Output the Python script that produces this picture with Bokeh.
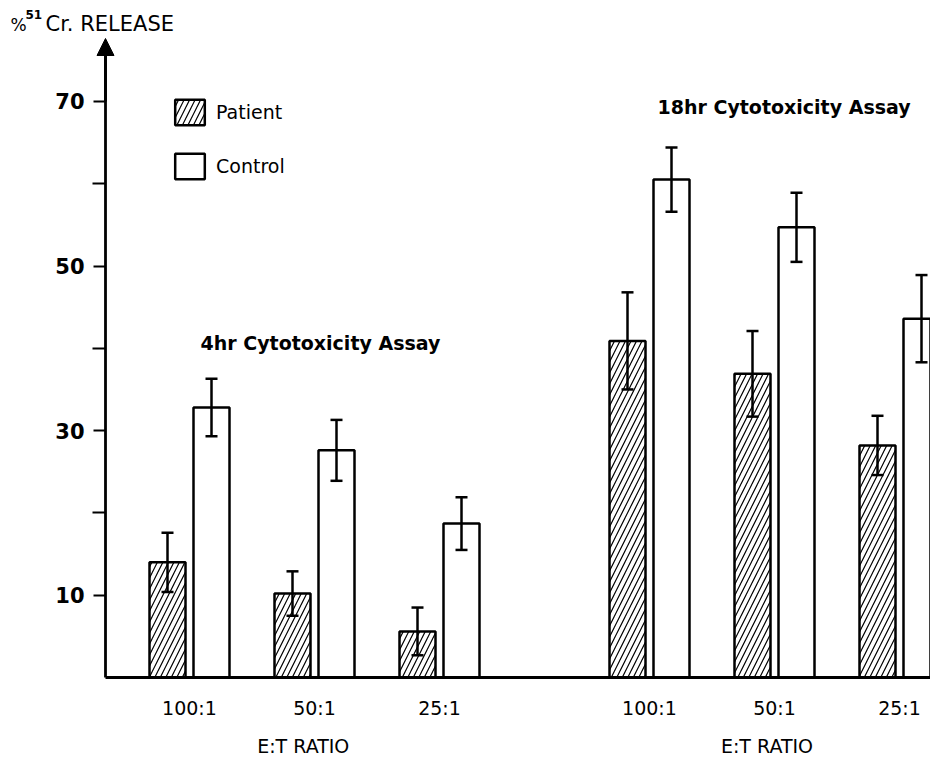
import numpy as np
from bokeh.plotting import figure
from bokeh.models import (Range1d, LinearAxis, FixedTicker, Whisker, TeeHead, Arrow,
                          NormalHead, Label, Legend, LegendItem, ColumnDataSource)
from bokeh.embed import file_html
from bokeh.resources import INLINE

# E:T ratios tested in each assay
ratios = ["100:1", "50:1", "25:1"]
assay_titles = ["4hr Cytotoxicity Assay", "18hr  Cytotoxicity Assay"]

# % 51Cr release (mean) and error (±) per ratio
patient_4hr = [14.0, 10.2, 5.6]
patient_4hr_err = [3.6, 2.7, 2.9]
control_4hr = [32.8, 27.6, 18.7]
control_4hr_err = [3.5, 3.7, 3.2]

patient_18hr = [40.9, 36.9, 28.2]
patient_18hr_err = [5.9, 5.2, 3.6]
control_18hr = [60.5, 54.7, 43.6]
control_18hr_err = [3.9, 4.2, 5.3]

# y axis ticks: labelled and unlabelled
y_labelled = [10, 30, 50, 70]
y_unlabelled = [20, 40, 60]

# ---- layout of the two groups of bars on a numeric x scale ----
GAP = 1.68          # extra space between the 4hr and 18hr groups
DODGE = 0.176       # half distance between patient and control bar
BAR_W = 0.288
n = len(ratios)
centers = np.concatenate([np.arange(n), np.arange(n) + n - 1 + GAP])

patient = np.array(patient_4hr + patient_18hr)
patient_err = np.array(patient_4hr_err + patient_18hr_err)
control = np.array(control_4hr + control_18hr)
control_err = np.array(control_4hr_err + control_18hr_err)

src_p = ColumnDataSource(dict(x=centers - DODGE, top=patient,
                              upper=patient + patient_err, lower=patient - patient_err))
src_c = ColumnDataSource(dict(x=centers + DODGE, top=control,
                              upper=control + control_err, lower=control - control_err))

FONT = "DejaVu Sans"
W, H = 930, 762
PX_X = 125.0            # pixels per x unit
PX_Y = 637 / 77.4       # pixels per % release
X0_PX, Y0_PX = 189, 677 # pixel position of x=0 / y=0

def x_of(px):
    return (px - X0_PX) / PX_X

def y_of(px):
    return (Y0_PX - px) / PX_Y

AXIS_X = x_of(105)      # where the y axis stands
Y_TOP = y_of(46)        # top of the y axis line (below the arrow tip)

p = figure(width=W, height=H, output_backend="svg", toolbar_location=None,
           x_range=Range1d(x_of(0), x_of(W)), y_range=Range1d(y_of(H), y_of(0)),
           x_axis_type=None, y_axis_type=None, min_border=0,
           min_border_left=0, min_border_right=0, min_border_top=0, min_border_bottom=0)
p.outline_line_color = None
p.xgrid.visible = False
p.ygrid.visible = False
p.background_fill_color = "white"
p.border_fill_color = "white"

# ---- axes (drawn at fixed positions inside the canvas) ----
yaxis = LinearAxis(ticker=FixedTicker(ticks=y_labelled, minor_ticks=y_unlabelled),
                   fixed_location=AXIS_X, bounds=(0, Y_TOP))
yaxis.axis_line_width = 2.8
yaxis.major_tick_line_width = 2
yaxis.minor_tick_line_width = 2
yaxis.major_tick_in = 0
yaxis.major_tick_out = 12
yaxis.minor_tick_in = 0
yaxis.minor_tick_out = 13
yaxis.major_label_standoff = 8
yaxis.major_label_text_font = FONT
yaxis.major_label_text_font_style = "bold"
yaxis.major_label_text_font_size = "21px"
yaxis.major_label_text_color = "black"
p.add_layout(yaxis, "left")

xaxis = LinearAxis(ticker=FixedTicker(ticks=list(centers)), fixed_location=0,
                   bounds=(AXIS_X, x_of(W)))
xaxis.major_label_overrides = {float(c): r for c, r in zip(centers, ratios * 2)}
xaxis.axis_line_width = 2.8
xaxis.major_tick_line_color = None
xaxis.minor_tick_line_color = None
xaxis.major_tick_out = 0
xaxis.major_tick_in = 0
xaxis.major_label_standoff = 19
xaxis.major_label_text_font = FONT
xaxis.major_label_text_font_size = "19px"
xaxis.major_label_text_color = "black"
p.add_layout(xaxis, "below")

mid = [float(centers[1]) - 0.09, float(centers[n + 1]) - 0.06]
xaxis2 = LinearAxis(ticker=FixedTicker(ticks=mid), fixed_location=0)
xaxis2.major_label_overrides = {m: "E:T RATIO" for m in mid}
xaxis2.axis_line_color = None
xaxis2.major_tick_line_color = None
xaxis2.minor_tick_line_color = None
xaxis2.major_tick_out = 0
xaxis2.major_tick_in = 0
xaxis2.major_label_standoff = 57
xaxis2.major_label_text_font = FONT
xaxis2.major_label_text_font_size = "19px"
xaxis2.major_label_text_color = "black"
p.add_layout(xaxis2, "below")

# arrow head on top of the y axis
p.add_layout(Arrow(x_start=AXIS_X, y_start=70, x_end=AXIS_X, y_end=y_of(38),
                   line_width=2.8, line_color="black",
                   end=NormalHead(size=17, fill_color="black", line_color="black", line_width=1)))

# ---- bars ----
r_p = p.vbar(x="x", top="top", bottom=0, width=BAR_W, source=src_p,
             fill_color="white", line_color="black", line_width=2.5,
             hatch_pattern="/", hatch_color="black", hatch_scale=11, hatch_weight=1.2)
r_c = p.vbar(x="x", top="top", bottom=0, width=BAR_W, source=src_c,
             fill_color="white", line_color="black", line_width=2.5)

for src in (src_p, src_c):
    p.add_layout(Whisker(source=src, base="x", upper="upper", lower="lower",
                         level="overlay", line_width=2.5, line_color="black",
                         upper_head=TeeHead(size=12, line_width=2.5, line_color="black"),
                         lower_head=TeeHead(size=12, line_width=2.5, line_color="black")))

# ---- legend ----
legend = Legend(items=[LegendItem(label="Patient", renderers=[r_p]),
                       LegendItem(label="Control", renderers=[r_c])],
                location=(171, H - 182), orientation="vertical",
                glyph_width=37, glyph_height=32, spacing=22, padding=0, margin=0,
                label_standoff=8, label_text_font=FONT, label_text_font_size="19px",
                label_text_color="black", border_line_color=None,
                background_fill_alpha=0)
p.add_layout(legend)

# ---- texts ----
p.add_layout(Label(x=x_of(200), y=y_of(342), text=assay_titles[0], text_font=FONT,
                   text_font_style="bold", text_font_size="19px", text_color="black",
                   text_baseline="alphabetic"))
p.add_layout(Label(x=x_of(657), y=y_of(106), text=assay_titles[1], text_font=FONT,
                   text_font_style="bold", text_font_size="19px", text_color="black",
                   text_baseline="alphabetic"))

# y axis title: "% 51Cr. RELEASE"
p.add_layout(Label(x=x_of(10), y=y_of(24), text="%", text_font=FONT,
                   text_font_size="17px", text_color="black", text_baseline="alphabetic"))
p.add_layout(Label(x=x_of(25), y=y_of(14), text="51", text_font=FONT,
                   text_font_style="bold", text_font_size="12px", text_color="black",
                   text_baseline="alphabetic"))
p.add_layout(Label(x=x_of(45), y=y_of(23), text="Cr. RELEASE", text_font=FONT,
                   text_font_size="21px", text_color="black", text_baseline="alphabetic"))

open("out.html", "w").write(file_html(p, INLINE))
